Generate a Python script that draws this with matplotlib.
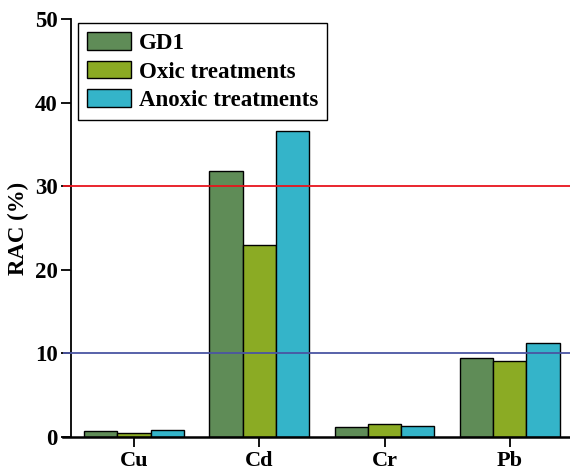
import numpy as np
import matplotlib.pyplot as plt

plt.rcParams["font.family"] = ["Liberation Serif", "DejaVu Serif"]
plt.rcParams["font.weight"] = "bold"

metals = ["Cu", "Cd", "Cr", "Pb"]
gd1 = [0.7, 31.8, 1.2, 9.4]
oxic = [0.5, 23.0, 1.6, 9.05]
anoxic = [0.8, 36.6, 1.3, 11.3]
series_names = ["GD1", "Oxic treatments", "Anoxic treatments"]
colors = ["#5f8c57", "#8bab24", "#34b4c9"]

fig = plt.figure(figsize=(5.7, 4.71), dpi=100)
ax = fig.add_axes([63 / 570, 34 / 471, 1 - 63 / 570, 418 / 471])

x = np.arange(len(metals))
w = 0.265
for i, (vals, name, c) in enumerate(zip([gd1, oxic, anoxic], series_names, colors)):
    ax.bar(x + (i - 1) * w, vals, width=w, color=c, edgecolor="black",
           linewidth=1.0, label=name, zorder=2)

# reference levels at 10 % and 30 %
ax.axhline(30, color="#e8141c", linewidth=1.3, zorder=3)
ax.axhline(10, color="#4a55a2", linewidth=1.3, zorder=3)

ax.set_xlim(-0.566, 3.48)
ax.set_ylim(0, 50)
ax.set_yticks([0, 10, 20, 30, 40, 50])
ax.set_xticks(x)
ax.set_xticklabels(metals)
ax.tick_params(axis="both", labelsize=16, width=1.3, length=7, direction="out", pad=3)
ax.tick_params(axis="y", labelsize=16.5)
for lbl in ax.get_xticklabels() + ax.get_yticklabels():
    lbl.set_fontweight("bold")
ax.set_ylabel("RAC (%)", fontsize=16.5, fontweight="bold", labelpad=4)

ax.spines["top"].set_visible(False)
ax.spines["right"].set_visible(False)
ax.spines["left"].set_position(("data", -0.5))
ax.spines["left"].set_linewidth(1.3)
ax.spines["bottom"].set_linewidth(1.8)

leg = ax.legend(loc="upper left", bbox_to_anchor=(15 / 507, 414 / 418),
                borderaxespad=0, frameon=True, fancybox=False, shadow=False,
                framealpha=1, edgecolor="black", handlelength=1.9,
                handleheight=0.8, handletextpad=0.35, borderpad=0.4,
                labelspacing=0.3, prop={"weight": "bold", "size": 16.5})
leg.get_frame().set_linewidth(1.0)

fig.savefig("out.png", dpi=100)
